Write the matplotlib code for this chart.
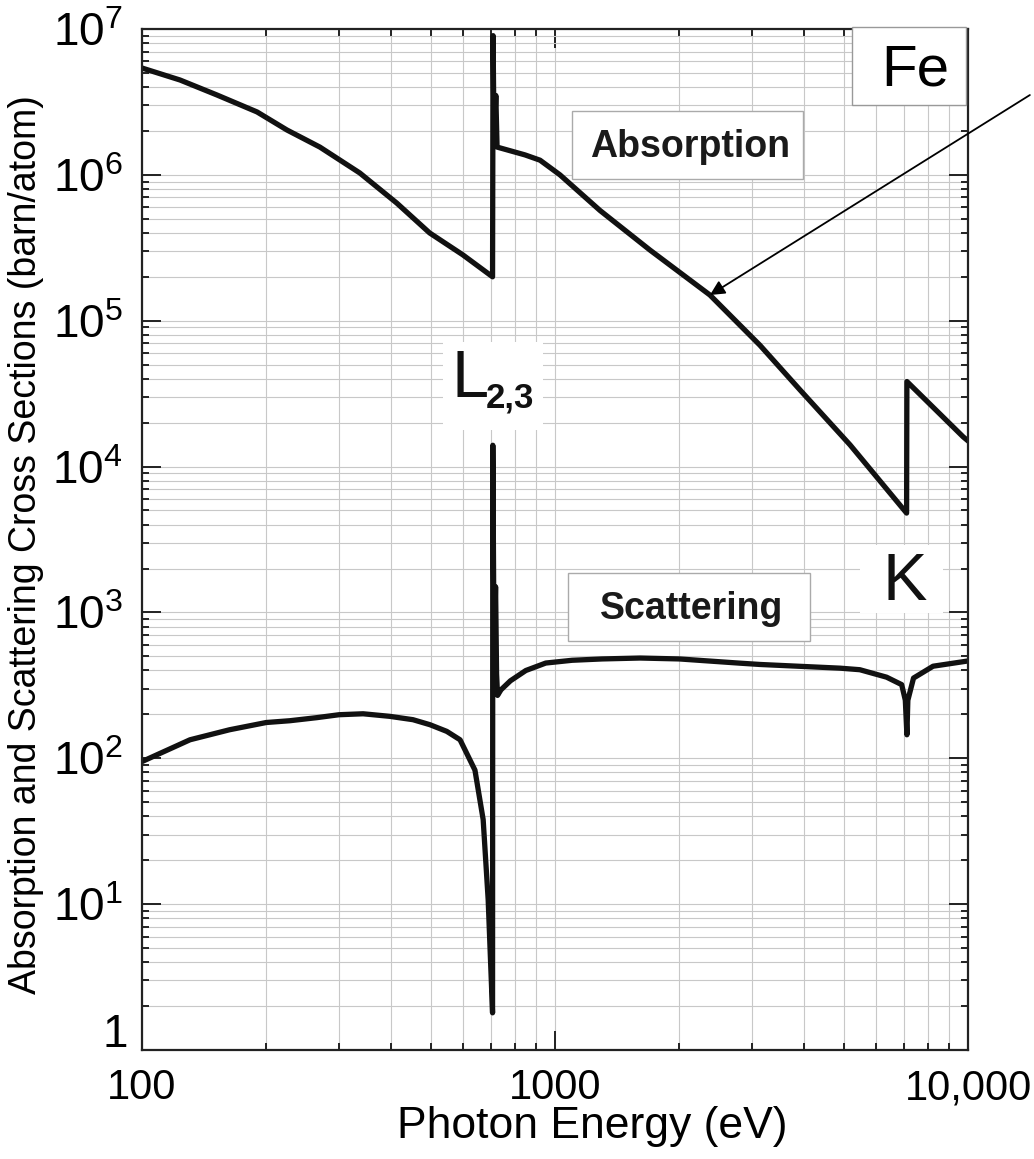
import matplotlib
matplotlib.use('Agg')
import matplotlib.pyplot as plt
import matplotlib.ticker as ticker
from matplotlib.patches import Rectangle
import numpy as np

plt.rcParams['font.family'] = ['Liberation Sans', 'DejaVu Sans']
plt.rcParams['mathtext.fontset'] = 'custom'
plt.rcParams['mathtext.rm'] = 'Liberation Sans'
plt.rcParams['mathtext.bf'] = 'Liberation Sans:bold'

# Fe absorption cross section (barn/atom)
abs_energy = [100, 123.6, 151.8, 189.9, 224.4, 269.6, 336.8, 414, 497, 598, 706,
              708, 712, 719, 724, 846, 920, 1028, 1285, 1698, 2372, 3133, 3917,
              5179, 7100, 7112, 9730, 10000]
abs_sigma = [5.4e6, 4.47e6, 3.53e6, 2.7e6, 2.03e6, 1.55e6, 1.03e6, 6.4e5, 4.0e5, 2.83e5, 2.0e5,
             9.0e6, 1.7e6, 3.5e6, 1.55e6, 1.37e6, 1.26e6, 1.0e6, 5.7e5, 3.05e5, 1.5e5, 6.8e4, 3.36e4,
             1.41e4, 4.8e3, 3.83e4, 1.6e4, 1.5e4]

# Fe scattering cross section (barn/atom)
sca_energy = [100, 130.7, 163, 200, 228, 265, 300, 343, 398, 453, 498, 547, 589, 640, 670,
              689, 706, 707, 712, 718, 722, 726, 740, 780, 850, 950, 1100, 1300, 1607,
              2000, 2806, 3133, 4898, 5470, 6350, 6908, 7050, 7112, 7150, 7380, 8230, 10000]
sca_sigma = [95, 134, 157, 176, 181, 190, 199, 202, 194, 184, 170, 153, 134, 83, 38,
             10.7, 1.8, 1.4e4, 500, 1500, 380, 270, 295, 340, 400, 450, 470, 480, 487,
             480, 449, 440, 415, 405, 360, 320, 250, 145, 250, 355, 428, 465]

x_ticks = [100, 1000, 10000]
x_tick_labels = ['100', '1000', '10,000']


def y_fmt(v, pos):
    if abs(v - 1) < 1e-9:
        return ''
    return r'$10^{%d}$' % round(np.log10(v))


fig = plt.figure(figsize=(10.34, 11.59), dpi=100)
ax = fig.add_axes([0.1373, 0.094, 0.7989, 0.881])

ax.plot(abs_energy, abs_sigma, color='#111111', lw=3.8)
ax.plot(sca_energy, sca_sigma, color='#111111', lw=3.8)

ax.set_xscale('log')
ax.set_yscale('log')
ax.set_xlim(100, 10000)
ax.set_ylim(1, 1e7)

ax.set_xticks(x_ticks)
ax.set_xticklabels(x_tick_labels)
ax.xaxis.set_minor_formatter(ticker.NullFormatter())
ax.yaxis.set_major_locator(ticker.LogLocator(base=10, numticks=10))
ax.yaxis.set_major_formatter(ticker.FuncFormatter(y_fmt))
ax.yaxis.set_minor_locator(ticker.LogLocator(base=10, subs=range(2, 10), numticks=20))
ax.yaxis.set_minor_formatter(ticker.NullFormatter())

ax.grid(which='both', color='#c8c8c8', lw=0.8)
ax.set_axisbelow(True)

ax.tick_params(which='both', direction='in', top=True, right=True, width=1.4, color='#222222')
ax.tick_params(which='major', length=14)
ax.tick_params(which='minor', length=5)
ax.tick_params(axis='x', labelsize=30, pad=13)
ax.tick_params(axis='y', labelsize=33, pad=14)
for s in ax.spines.values():
    s.set_linewidth(1.6)
    s.set_color('#222222')

# the "1" label sits a little above its tick in the original
ax.text(-0.017, 0.0147, '1', transform=ax.transAxes, fontsize=33,
        ha='right', va='center')

ax.set_xlabel('Photon Energy (eV)', fontsize=32)
ax.xaxis.set_label_coords(0.545, -0.055)
ax.set_ylabel('Absorption and Scattering Cross Sections (barn/atom)', fontsize=27)
ax.yaxis.set_label_coords(-0.118, 0.495)

# Fe box over top-right corner
ax.add_patch(Rectangle((0.8596, 0.9256), 0.138, 0.0764, transform=ax.transAxes,
                       fc='white', ec='#999999', lw=1, clip_on=False, zorder=10))
ax.text(0.8955, 0.9451, 'Fe', transform=ax.transAxes, fontsize=42,
        ha='left', va='baseline', zorder=11)

# labelled boxes
ax.add_patch(Rectangle((0.5206, 0.8531), 0.2796, 0.0666, transform=ax.transAxes,
                       fc='white', ec='#aaaaaa', lw=1, zorder=3))
ax.text(0.6634, 0.8749, 'Absorption', transform=ax.transAxes, fontsize=27,
        fontweight='bold', ha='center', va='baseline', color='#1a1a1a', zorder=4)
ax.add_patch(Rectangle((0.5157, 0.4006), 0.293, 0.0666, transform=ax.transAxes,
                       fc='white', ec='#aaaaaa', lw=1, zorder=3))
ax.text(0.6658, 0.4218, 'Scattering', transform=ax.transAxes, fontsize=27,
        fontweight='bold', ha='center', va='baseline', color='#1a1a1a', zorder=4)

# edge labels
ax.add_patch(Rectangle((0.3644, 0.6072), 0.1211, 0.0862, transform=ax.transAxes,
                       fc='white', ec='none', zorder=2))
ax.text(0.375, 0.6396, 'L', transform=ax.transAxes, fontsize=48,
        ha='left', va='baseline', color='#111111', zorder=4)
ax.text(0.4165, 0.629, '2,3', transform=ax.transAxes, fontsize=25, fontweight='bold',
        ha='left', va='baseline', color='#111111', zorder=4)
ax.add_patch(Rectangle((0.8692, 0.428), 0.1005, 0.0666, transform=ax.transAxes,
                       fc='white', ec='none', zorder=2))
ax.text(0.897, 0.4407, 'K', transform=ax.transAxes, fontsize=48,
        ha='left', va='baseline', color='#111111', zorder=4)

# arrow pointing at the absorption curve
ax.annotate('', xy=(2372, 1.5e5), xycoords='data',
            xytext=(0.996, 0.918), textcoords='figure fraction',
            arrowprops=dict(arrowstyle='-|>', lw=1.3, color='black',
                            mutation_scale=22, shrinkA=0, shrinkB=0),
            annotation_clip=False, zorder=12)

plt.savefig('out.png', dpi=100)
